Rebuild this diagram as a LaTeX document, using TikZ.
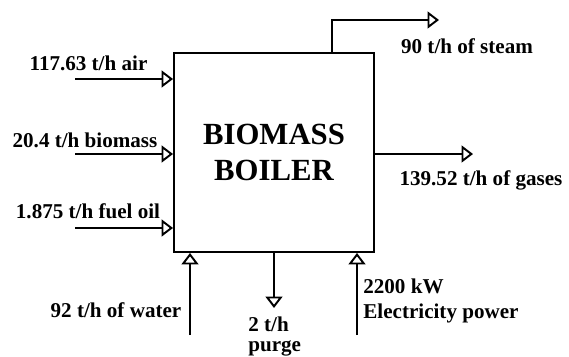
\documentclass[tikz,border=0pt]{standalone}
\usepackage{fontspec}
\setmainfont{Liberation Serif}
\usetikzlibrary{positioning,arrows.meta}

\begin{document}
\begin{tikzpicture}[x=1cm,y=1cm, every node/.style={font=\bfseries\fontsize{12}{14.4}\selectfont, inner sep=0pt},
    flow/.style={line width=1.1pt, -{Triangle[open, length=2.3mm, width=3.4mm, line width=1.1pt]}}]
      \useasboundingbox (0,0) rectangle (11.38,7.12);
      \node[draw, line width=1.1pt, minimum width=4cm, minimum height=3.98cm, align=center,
            font=\bfseries\fontsize{17.5}{20}\selectfont] (boiler) at (5.48,4.07) {BIOMASS\\BOILER};
      % inputs on the left
      \coordinate (airin) at (1.5,5.54);
      \coordinate (bioin) at (1.5,4.04);
      \coordinate (oilin) at (1.5,2.56);
      \foreach \a in {airin,bioin,oilin}
        \draw[flow] (\a) -- (\a -| boiler.west);
      \node[anchor=base] (air) at (1.77,5.72) {117.63 t/h air};
      \node[anchor=base] (bio) at (1.70,4.18) {20.4 t/h biomass};
      \node[anchor=base] (oil) at (1.76,2.76) {1.875 t/h fuel oil};
      % outputs on the right
      \coordinate (steambase) at (6.64,6.06);
      \coordinate (steamout) at (8.78,6.72);
      \draw[flow] (steambase) |- (steamout);
      \coordinate (gasout) at (9.46,4.04);
      \draw[flow] (gasout -| boiler.east) -- (gasout);
      \node[anchor=base] (steam) at (9.34,6.06) {90 t/h of steam};
      \node[anchor=base] (gas) at (9.62,3.42) {139.52 t/h of gases};
      % bottom
      \coordinate (waterin) at (3.8,0.42);
      \coordinate (powerin) at (7.14,0.42);
      \coordinate (purgeout) at (5.48,0.96);
      \foreach \a in {waterin,powerin}
        \draw[flow] (\a) -- (\a |- boiler.south);
      \draw[flow] (purgeout |- boiler.south) -- (purgeout);
      \node[anchor=base] (water) at (2.32,0.78) {92 t/h of water};
      \node[anchor=west, align=left] (purge) at (4.96,0.39) {2 t/h\\[-3pt]purge};
      \node[anchor=west, align=left] (power) at (7.26,1.10) {2200 kW\\Electricity power};
    \end{tikzpicture}
\end{document}
